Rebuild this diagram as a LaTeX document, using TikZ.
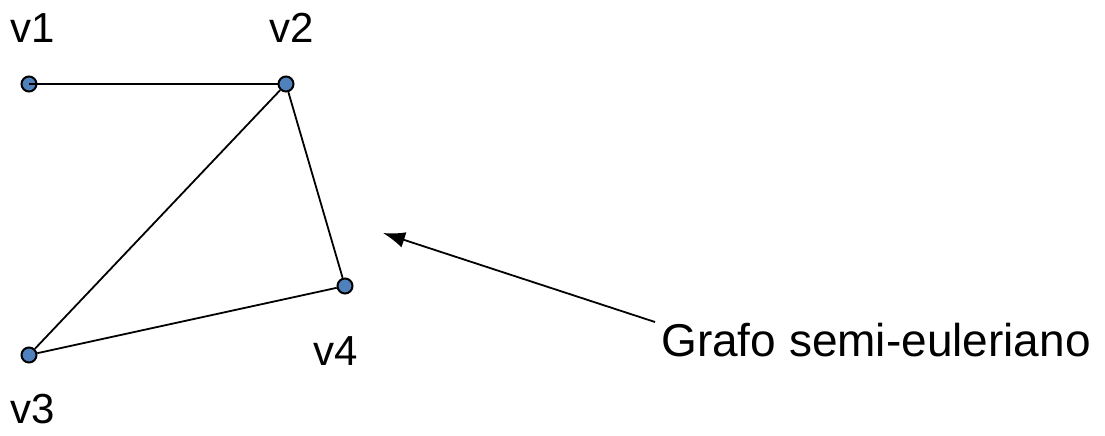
\documentclass[tikz,border=0pt]{standalone}
\usepackage{fontspec}
\setmainfont{Liberation Sans}
\usepackage{tikz}
\usetikzlibrary{arrows.meta}
\definecolor{dotblue}{HTML}{4F81BD}

\begin{document}
\begin{tikzpicture}[x=1pt,y=-1pt,line width=1.8pt,
        vertex/.style={circle,draw,fill=dotblue,line width=2pt,minimum size=15pt,inner sep=0pt},
        lbl/.style={anchor=base,inner sep=0pt,font=\fontsize{42}{48}\selectfont}]
        \useasboundingbox (0,0) rectangle (1105,436);
        \node[vertex] (v1) at (29,84){};
        \node[vertex] (v2) at (286,84){};
        \node[vertex] (v3) at (29,355){};
        \node[vertex] (v4) at (345,286){};
        \draw (v1.center)--(v2);
        \draw (v2)--(v3);
        \draw (v2)--(v4);
        \draw (v3)--(v4);
        \node[lbl] (lv1) at (33,43){v1};
        \node[lbl] (lv2) at (292,43){v2};
        \node[lbl] (lv3) at (33,423){v3};
        \node[lbl] (lv4) at (336,365){v4};
        \node[lbl,font=\fontsize{46}{52}\selectfont] (txt) at (876,356){Grafo semi-euleriano};
        \coordinate (from) at (655,322);
        \coordinate (to) at (383,233);
        \draw[-{Latex[length=22pt,width=16pt]}] (from)--(to);
    \end{tikzpicture}
\end{document}
